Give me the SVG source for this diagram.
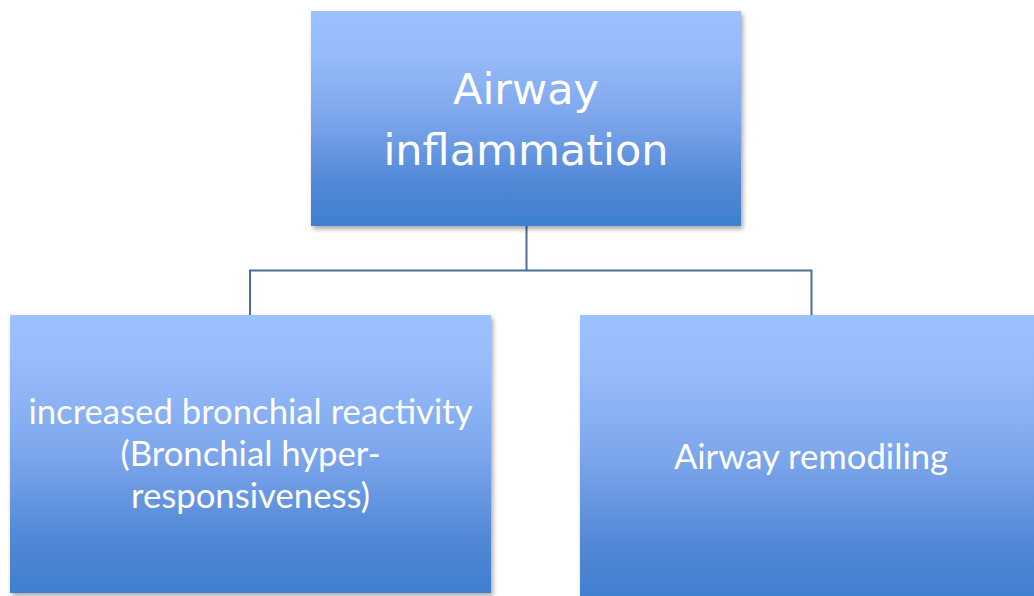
<svg xmlns="http://www.w3.org/2000/svg" width="1034" height="596" viewBox="0 0 1034 596">
<defs>
<linearGradient id="g" x1="0" y1="0" x2="0" y2="1">
<stop offset="0" stop-color="#9cc1ff"/>
<stop offset="0.2" stop-color="#96bbfa"/>
<stop offset="0.5" stop-color="#7ca6ec"/>
<stop offset="0.8" stop-color="#5288d6"/>
<stop offset="1" stop-color="#3f7fcf"/>
</linearGradient>
<filter id="sh" x="-5%" y="-5%" width="110%" height="115%">
<feGaussianBlur in="SourceAlpha" stdDeviation="2.5"/>
<feOffset dx="2" dy="3" result="b"/>
<feComponentTransfer><feFuncA type="linear" slope="0.35"/></feComponentTransfer>
<feMerge><feMergeNode/><feMergeNode in="SourceGraphic"/></feMerge>
</filter>
</defs>
<style>
.box{fill:url(#g);filter:url(#sh);}
.t{fill:#ffffff;text-anchor:middle;}
.top{font-family:"DejaVu Sans","Noto Sans",sans-serif;font-size:43px;}
.lab{font-family:"Lato","Open Sans",sans-serif;font-size:34.7px;}
.con{fill:none;stroke:#4a6f9c;stroke-width:2;}
</style>
<rect width="1034" height="596" fill="#ffffff"/>
<g id="connectors">
<path class="con" d="M526.5 226 V270.5 M250 315 V270.5 H811.5 V315"/>
</g>
<g id="node-top">
<rect class="box" x="311" y="11" width="430" height="215"/>
<text class="t top" x="526" y="104">Airway</text>
<text class="t top" x="526" y="165">inflammation</text>
</g>
<g id="node-left">
<rect class="box" x="10" y="315" width="481" height="278"/>
<text class="t lab" x="250.5" y="424">increased bronchial reactivity</text>
<text class="t lab" x="250.5" y="466">(Bronchial hyper-</text>
<text class="t lab" x="250.5" y="508">responsiveness)</text>
</g>
<g id="node-right">
<rect class="box" x="580" y="315" width="460" height="285"/>
<text class="t lab" x="811" y="469">Airway remodiling</text>
</g>
</svg>
